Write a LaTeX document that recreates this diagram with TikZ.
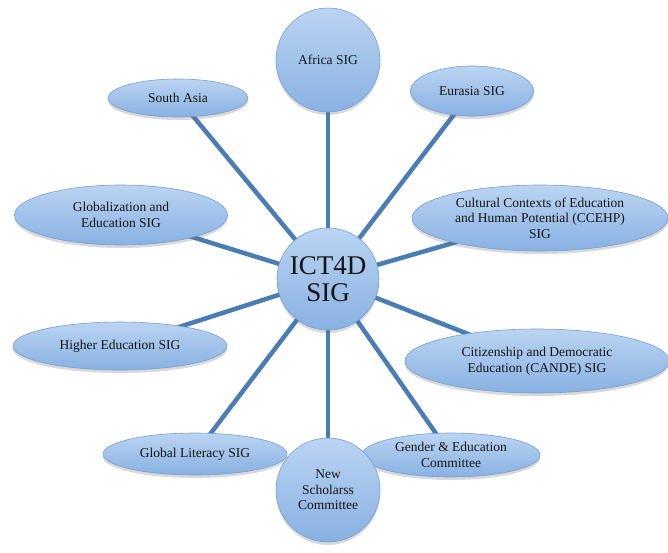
\documentclass[tikz,border=0pt]{standalone}
\usepackage{fontspec}
\setmainfont{Liberation Serif}
\usetikzlibrary{shapes.geometric,shadows}
\definecolor{spoke}{HTML}{4A7DB4}
\definecolor{nodetop}{HTML}{BBD4F2}
\definecolor{nodebot}{HTML}{88B1E2}
\definecolor{nodeedge}{HTML}{769FD4}
\definecolor{txt}{HTML}{141414}
\tikzset{
  bubble/.style={top color=nodetop, bottom color=nodebot, draw=nodeedge, line width=0.6pt,
    text=txt, align=center, inner sep=0pt,
    font=\fontsize{13.5}{15.5}\selectfont,
    drop shadow={shadow xshift=0pt, shadow yshift=-3pt, opacity=0.25, fill=black!60}},
  oval/.style={bubble, ellipse},
  disc/.style={bubble, circle},
  spokeline/.style={draw=spoke, line width=4.5pt}
}
\begin{document}
\begin{tikzpicture}[x=1pt,y=-1pt]
\useasboundingbox (0,0) rectangle (668,552);
% node positions
\coordinate (pc) at (328,279);
\coordinate (paf) at (328,60);
\coordinate (psa) at (178,98);
\coordinate (peu) at (472,91);
\coordinate (pgl) at (121,215);
\coordinate (pcc) at (540,218);
\coordinate (phe) at (120,346);
\coordinate (pca) at (537,361);
\coordinate (pgli) at (195,454);
\coordinate (pge) at (451,455);
\coordinate (pns) at (328,490);
% spokes
\foreach \p in {paf,psa,peu,pgl,pcc,phe,pca,pgli,pge,pns}
  \draw[spokeline] (pc) -- (\p);
% nodes
\node[disc, minimum size=104pt] (africa) at (paf) {Africa SIG};
\node[oval, minimum width=140pt, minimum height=38pt] (sasia) at (psa) {South Asia};
\node[oval, minimum width=123pt, minimum height=50pt] (eurasia) at (peu) {Eurasia SIG};
\node[oval, minimum width=213pt, minimum height=60pt] (glob) at (pgl) {Globalization and\\Education SIG};
\node[oval, minimum width=256pt, minimum height=66pt] (cceh) at (pcc) {Cultural Contexts of Education\\and Human Potential (CCEHP)\\SIG};
\node[oval, minimum width=214pt, minimum height=48pt] (higher) at (phe) {Higher Education SIG};
\node[oval, minimum width=264pt, minimum height=64pt] (cande) at (pca) {Citizenship and Democratic\\Education (CANDE) SIG};
\node[oval, minimum width=184pt, minimum height=42pt] (glit) at (pgli) {Global Literacy SIG};
\node[oval, minimum width=178pt, minimum height=44pt] (gender) at (pge) {Gender \& Education\\Committee};
\node[disc, minimum size=104pt] (news) at (pns) {New\\Scholarss\\Committee};
\node[disc, minimum size=102pt, font=\fontsize{27}{27}\selectfont] (ict) at (pc) {ICT4D\\SIG};
\end{tikzpicture}
\end{document}
